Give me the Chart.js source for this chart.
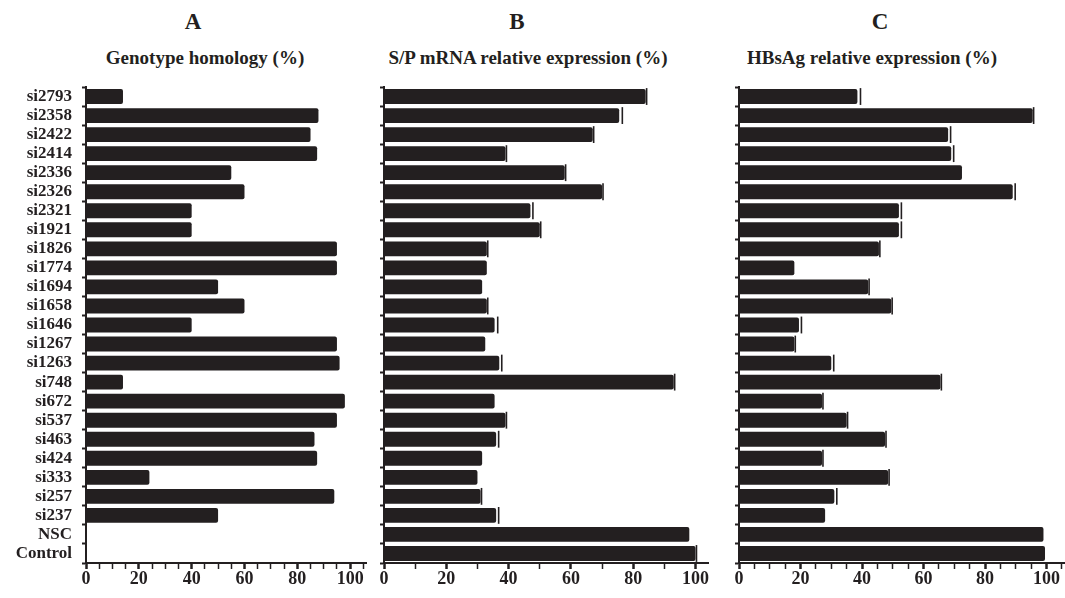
<!DOCTYPE html>
<html>
<head>
<meta charset="utf-8">
<script src="https://cdn.jsdelivr.net/npm/chart.js@4.4.1/dist/chart.umd.min.js"></script>
<style>
  body { margin: 0; background: #fff; }
  #wrap { position: relative; width: 1065px; height: 598px; overflow: hidden;
          font-family: 'Liberation Serif', 'Times New Roman', serif; font-weight: bold; color: #231f20; }
  canvas { position: absolute; top: 0; }
  .t { position: absolute; transform: translate(-50%, -50%); white-space: nowrap; }
  .big { font-size: 23px; }
  .sub { font-size: 19px; }
</style>
</head>
<body>
<div id="wrap">
  <div class="t big" style="left:193px;top:22px">A</div>
  <div class="t sub" style="left:205px;top:58px">Genotype homology (%)</div>
  <div class="t big" style="left:517px;top:22px">B</div>
  <div class="t sub" style="left:528px;top:58px">S/P mRNA relative expression (%)</div>
  <div class="t big" style="left:880px;top:22px">C</div>
  <div class="t sub" style="left:872px;top:58px">HBsAg relative expression (%)</div>
  <canvas id="cA" width="370" height="598" style="left:0px"></canvas>
  <canvas id="cB" width="345" height="598" style="left:370px"></canvas>
  <canvas id="cC" width="350" height="598" style="left:715px"></canvas>
</div>
<script>
const ink = '#231f20'

// rows, top to bottom
const categories = ['si2793', 'si2358', 'si2422', 'si2414', 'si2336', 'si2326', 'si2321', 'si1921',
  'si1826', 'si1774', 'si1694', 'si1658', 'si1646', 'si1267', 'si1263', 'si748', 'si672', 'si537',
  'si463', 'si424', 'si333', 'si257', 'si237', 'NSC', 'Control']

// A: genotype homology (%)
const homology = [14, 88, 85, 87.5, 55, 60, 40, 40, 95, 95, 50, 60, 40, 95, 96, 14, 98, 95,
  86.5, 87.5, 24, 94, 50, 0, 0]

// B: S/P mRNA relative expression (%)
const mrna = [84, 75.5, 67, 39, 58, 70, 47, 50, 33, 33, 31.5, 33, 35.5, 32.5, 37, 93, 35.5, 39,
  36, 31.5, 30, 31, 36, 98, 100]
const mrnaErr = [0.3, 1, 0.3, 0.3, 0.3, 0.3, 0.8, 0.3, 0.3, 0, 0, 0.3, 1, 0, 0.8, 0.3, 0, 0.3,
  0.8, 0, 0, 0.3, 0.8, 0, 0.3]

// C: HBsAg relative expression (%)
const hbsag = [38.5, 95.5, 68, 69, 72.5, 89, 52, 52, 45.5, 18, 42, 49.5, 19.5, 18, 30, 65.5, 27, 35,
  47.5, 27, 48.5, 31, 28, 99, 99.5]
const hbsagErr = [1, 0.3, 0.8, 0.8, 0, 0.8, 0.8, 0.8, 0.3, 0, 0.3, 0.3, 0.8, 0.3, 0.8, 0.3, 0.3, 0.3,
  0.3, 0.3, 0.3, 0.8, 0, 0, 0]

const xTickLabels = [0, 20, 40, 60, 80, 100]

// small error caps at the end of the bars
const capPlugin = {
  id: 'caps',
  afterDatasetsDraw(chart) {
    const ds = chart.data.datasets[0]
    if (!ds.errs) return
    const ctx = chart.ctx, xs = chart.scales.x
    chart.getDatasetMeta(0).data.forEach((bar, i) => {
      const e = ds.errs[i]
      if (!e) return
      const x = xs.getPixelForValue(ds.data[i] + e)
      ctx.save()
      ctx.strokeStyle = ink
      ctx.lineWidth = 1.6
      ctx.beginPath()
      ctx.moveTo(x, bar.y - bar.height / 2 - 1)
      ctx.lineTo(x, bar.y + bar.height / 2 + 1)
      ctx.stroke()
      ctx.restore()
    })
  }
}

function panel(id, values, errors, max, minorStep, showLabels, yWidth, padRight) {
  return new Chart(document.getElementById(id), {
    type: 'bar',
    data: {
      labels: categories,
      datasets: [{
        data: values,
        errs: errors,
        backgroundColor: ink,
        barPercentage: 0.78,
        categoryPercentage: 1,
        borderRadius: 2,
        borderSkipped: 'start'
      }]
    },
    options: {
      indexAxis: 'y',
      responsive: false,
      animation: false,
      layout: { padding: { top: 87, right: padRight, left: 0, bottom: 0 } },
      plugins: { legend: { display: false }, tooltip: { enabled: false } },
      scales: {
        x: {
          min: 0,
          max: max,
          afterFit: s => { s.height = 35 },
          ticks: {
            stepSize: minorStep,
            includeBounds: false,
            autoSkip: false,
            maxRotation: 0,
            padding: 0,
            color: ink,
            font: { family: "'Liberation Serif', serif", size: 18, weight: 'bold' },
            callback: v => xTickLabels.includes(v) ? v : ''
          },
          grid: {
            drawOnChartArea: false,
            tickLength: 6,
            tickColor: ink,
            tickWidth: c => (c.tick && xTickLabels.includes(c.tick.value)) ? 2.5 : 1.5
          },
          border: { color: ink, width: 2 }
        },
        y: {
          afterFit: s => { s.width = yWidth },
          ticks: {
            display: showLabels,
            autoSkip: false,
            padding: 10,
            color: ink,
            font: { family: "'Liberation Serif', serif", size: 17, weight: 'bold' }
          },
          grid: { drawOnChartArea: false, tickLength: 4, tickColor: ink, tickWidth: 2 },
          border: { color: ink, width: 2 }
        }
      }
    },
    plugins: [capPlugin]
  })
}

panel('cA', homology, null, 106, 5, true, 86, 4)
panel('cB', mrna, mrnaErr, 104, 10, false, 14, 7)
panel('cC', hbsag, hbsagErr, 106, 5, false, 24, 0)
</script>
</body>
</html>
